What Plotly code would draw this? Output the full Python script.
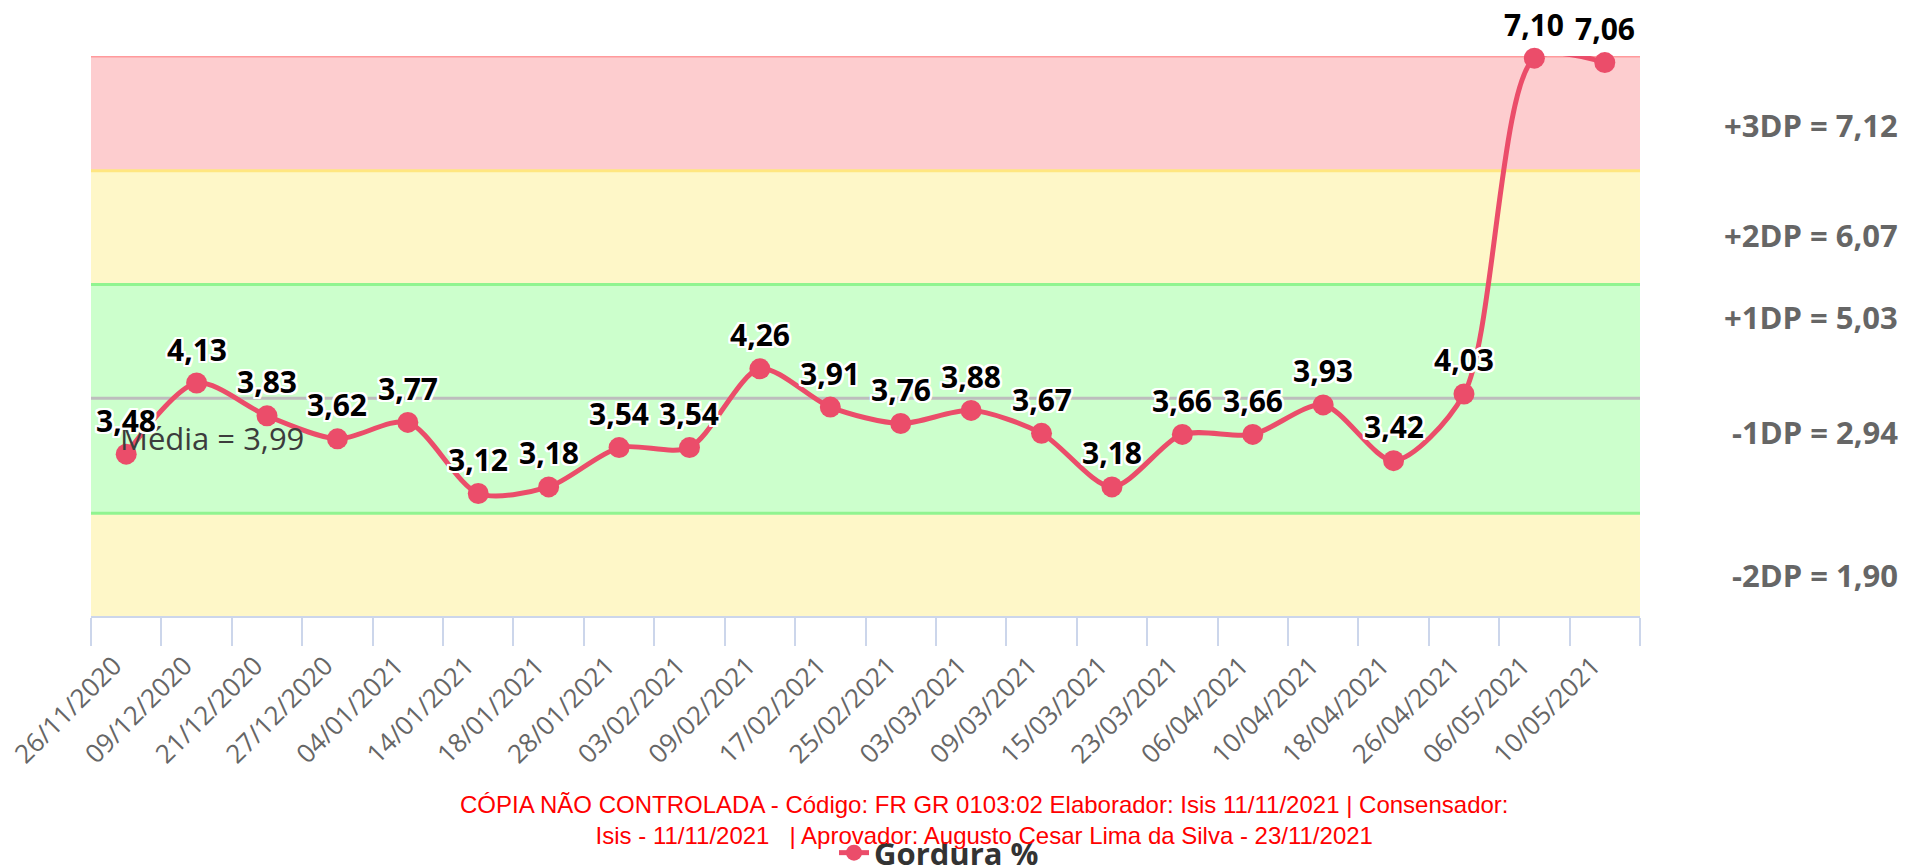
import plotly.graph_objects as go

# ---- data ----
dates = ["26/11/2020", "09/12/2020", "21/12/2020", "27/12/2020", "04/01/2021",
         "14/01/2021", "18/01/2021", "28/01/2021", "03/02/2021", "09/02/2021",
         "17/02/2021", "25/02/2021", "03/03/2021", "09/03/2021", "15/03/2021",
         "23/03/2021", "06/04/2021", "10/04/2021", "18/04/2021", "26/04/2021",
         "06/05/2021", "10/05/2021"]
gordura = [3.48, 4.13, 3.83, 3.62, 3.77, 3.12, 3.18, 3.54, 3.54, 4.26, 3.91,
           3.76, 3.88, 3.67, 3.18, 3.66, 3.66, 3.93, 3.42, 4.03, 7.10, 7.06]
media = 3.99
limit_names = ["+3DP", "+2DP", "+1DP", "-1DP", "-2DP"]
limit_values = [7.12, 6.07, 5.03, 2.94, 1.90]
series_name = "Gordura %"
watermark = ("CÓPIA NÃO CONTROLADA - Código: FR GR 0103:02 Elaborador: Isis 11/11/2021 | Consensador:"
             "<br>Isis - 11/11/2021   | Aprovador: Augusto Cesar Lima da Silva - 23/11/2021")

def br(v):
    return f"{v:.2f}".replace(".", ",")

# ---- layout constants ----
W, H = 1906, 865
ML, MR, MT, MB = 91, 266, 56, 249
PW, PH = W - ML - MR, H - MT - MB
def px_x(x):
    return (x - ML) / PW
def px_y(y):
    return (H - MB - y) / PH

Y0, Y1 = 2.0, 7.12
LINE = "#eb4d6a"

fig = go.Figure()
fig.add_trace(go.Scatter(
    x=dates, y=gordura, name=series_name, mode="lines+markers",
    line=dict(color=LINE, width=5, shape="spline", smoothing=0.8),
    marker=dict(color=LINE, size=21),
    cliponaxis=False,
))

# bands
p3, p2, p1, m1, m2 = limit_values
bands = [(p2, p3, "#fdcdcf"), (p1, p2, "#fef7c8"), (m1, p1, "#ccffcc"), (Y0 - 1, m1, "#fef7c8")]
shapes = []
for lo, hi, col in bands:
    shapes.append(dict(type="rect", xref="paper", yref="y", x0=0, x1=1, y0=lo, y1=hi,
                       fillcolor=col, line=dict(width=0), layer="below"))
for val, col in [(p3, "#ff9a9c"), (p2, "#ffe680"), (p1, "#90f490"), (m1, "#90f490"), (media, "#bdbdbd")]:
    shapes.append(dict(type="line", xref="paper", yref="y", x0=0, x1=1, y0=val, y1=val,
                       line=dict(color=col, width=3), layer="below"))

annotations = []
# mean label (drawn first, under the data labels)
annotations.append(dict(x=px_x(118), y=media, xref="paper", yref="y", xanchor="left",
                        text=f"Média = {br(media)}", showarrow=False, yshift=-40,
                        font=dict(family="Open Sans", size=31, color="#3c3c3c")))
# data labels
outline = ",".join(f"{dx}px {dy}px 0 #fff" for dx in (-2, -1, 0, 1, 2) for dy in (-2, -1, 0, 1, 2))
for d, v in zip(dates, gordura):
    annotations.append(dict(x=d, y=v, xref="x", yref="y", text=br(v), showarrow=False,
                            yshift=34, font=dict(family="Open Sans", size=30, color="#000",
                                                 weight="bold", shadow=outline)))
# right-side limit labels
label_px = [125, 235, 317, 432, 575]
for nm, v, ypx in zip(limit_names, limit_values, label_px):
    annotations.append(dict(x=px_x(1900), y=px_y(ypx), xref="paper", yref="paper", xanchor="right",
                            yanchor="middle", text=f"{nm} = {br(v)}", showarrow=False,
                            font=dict(family="Open Sans", size=31, color="#666666", weight="bold")))
# watermark
annotations.append(dict(x=px_x(984), y=px_y(820), xref="paper", yref="paper", xanchor="center",
                        yanchor="middle", text=watermark, showarrow=False, align="center",
                        font=dict(family="Liberation Sans", size=24, color="#ff0000")))

fig.update_layout(
    width=W, height=H,
    margin=dict(l=ML, r=MR, t=MT, b=MB, autoexpand=False),
    paper_bgcolor="white", plot_bgcolor="white",
    shapes=shapes, annotations=annotations,
    showlegend=True,
    legend=dict(orientation="h", x=px_x(834), y=px_y(853), xanchor="left", yanchor="middle",
                font=dict(family="Open Sans", size=31, color="#333333", weight="bold"),
                bgcolor="rgba(0,0,0,0)"),
    xaxis=dict(type="category", tickson="boundaries", ticks="outside", ticklen=28,
               tickwidth=2, tickcolor="#ccd6eb", showline=True, linecolor="#ccd6eb",
               linewidth=2, showgrid=False, tickangle=-45,
               ticklabelstandoff=22, ticklabelshift=-12,
               tickfont=dict(family="Open Sans", size=26, color="#666666"),
               range=[-0.5, len(dates) - 0.5]),
    yaxis=dict(range=[Y0, Y1], showgrid=False, showticklabels=False, zeroline=False,
               showline=False, ticks=""),
)

fig.write_html("out.html", config={"displayModeBar": False},
               post_script="document.body.style.margin='0';")
